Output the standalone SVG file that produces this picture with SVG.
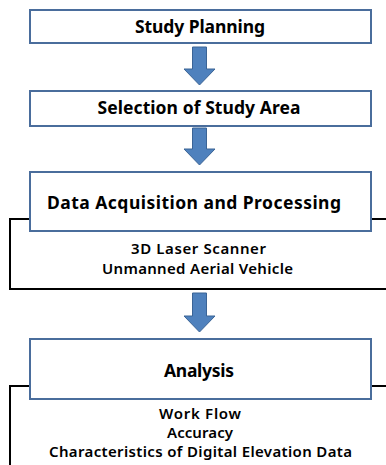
<svg xmlns="http://www.w3.org/2000/svg" width="386" height="465" viewBox="0 0 386 465">
<style>
.box{fill:#fff;stroke:#4a6d9c;stroke-width:2}
.br{fill:none;stroke:#000;stroke-width:2}
.arr{fill:#4f81bd;stroke:#3b6496;stroke-width:1}
.t{font-family:"Noto Sans","Open Sans",sans-serif;font-weight:bold;font-size:17.5px;fill:#000;text-anchor:middle}
.s{font-family:"Noto Sans","Open Sans",sans-serif;font-weight:600;font-size:15px;fill:#000;text-anchor:middle}
</style>
<rect width="386" height="465" fill="#fff"/>
<g id="connectors">
<polygon class="arr" points="192.5,47 206.5,47 206.5,69 215,69 199.5,85 184,69 192.5,69"/>
<polygon class="arr" points="192.5,128 206.5,128 206.5,149 215,149 199.5,165 184,149 192.5,149"/>
<polygon class="arr" points="192.5,293 206.5,293 206.5,316 215,316 199.5,332 184,316 192.5,316"/>
</g>
<g id="n1">
<rect class="box" x="30" y="10" width="341" height="33"/>
<text class="t" x="200" y="33" textLength="130" lengthAdjust="spacing">Study Planning</text>
</g>
<g id="n2">
<rect class="box" x="30" y="91" width="341" height="35"/>
<text class="t" x="199" y="114" textLength="203" lengthAdjust="spacing">Selection of Study Area</text>
</g>
<g id="n3">
<path class="br" d="M30,219 H10 V289 H386 M371,219 H386"/>
<rect class="box" x="30" y="172" width="341" height="59"/>
<text class="t" x="194" y="208.5" textLength="294" lengthAdjust="spacing">Data Acquisition and Processing</text>
<text class="s" x="198.5" y="254" textLength="135" lengthAdjust="spacing">3D Laser Scanner</text>
<text class="s" x="197.5" y="274" textLength="191" lengthAdjust="spacing">Unmanned Aerial Vehicle</text>
</g>
<g id="n4">
<path class="br" d="M30,386 H10 V465 M371,386 H386"/>
<rect class="box" x="30" y="339" width="341" height="60"/>
<text class="t" x="199" y="377" textLength="70" lengthAdjust="spacing">Analysis</text>
<text class="s" x="200" y="419" textLength="82" lengthAdjust="spacing">Work Flow</text>
<text class="s" x="200" y="438" textLength="66" lengthAdjust="spacing">Accuracy</text>
<text class="s" x="200.5" y="457" textLength="303" lengthAdjust="spacing">Characteristics of Digital Elevation Data</text>
</g>
</svg>
